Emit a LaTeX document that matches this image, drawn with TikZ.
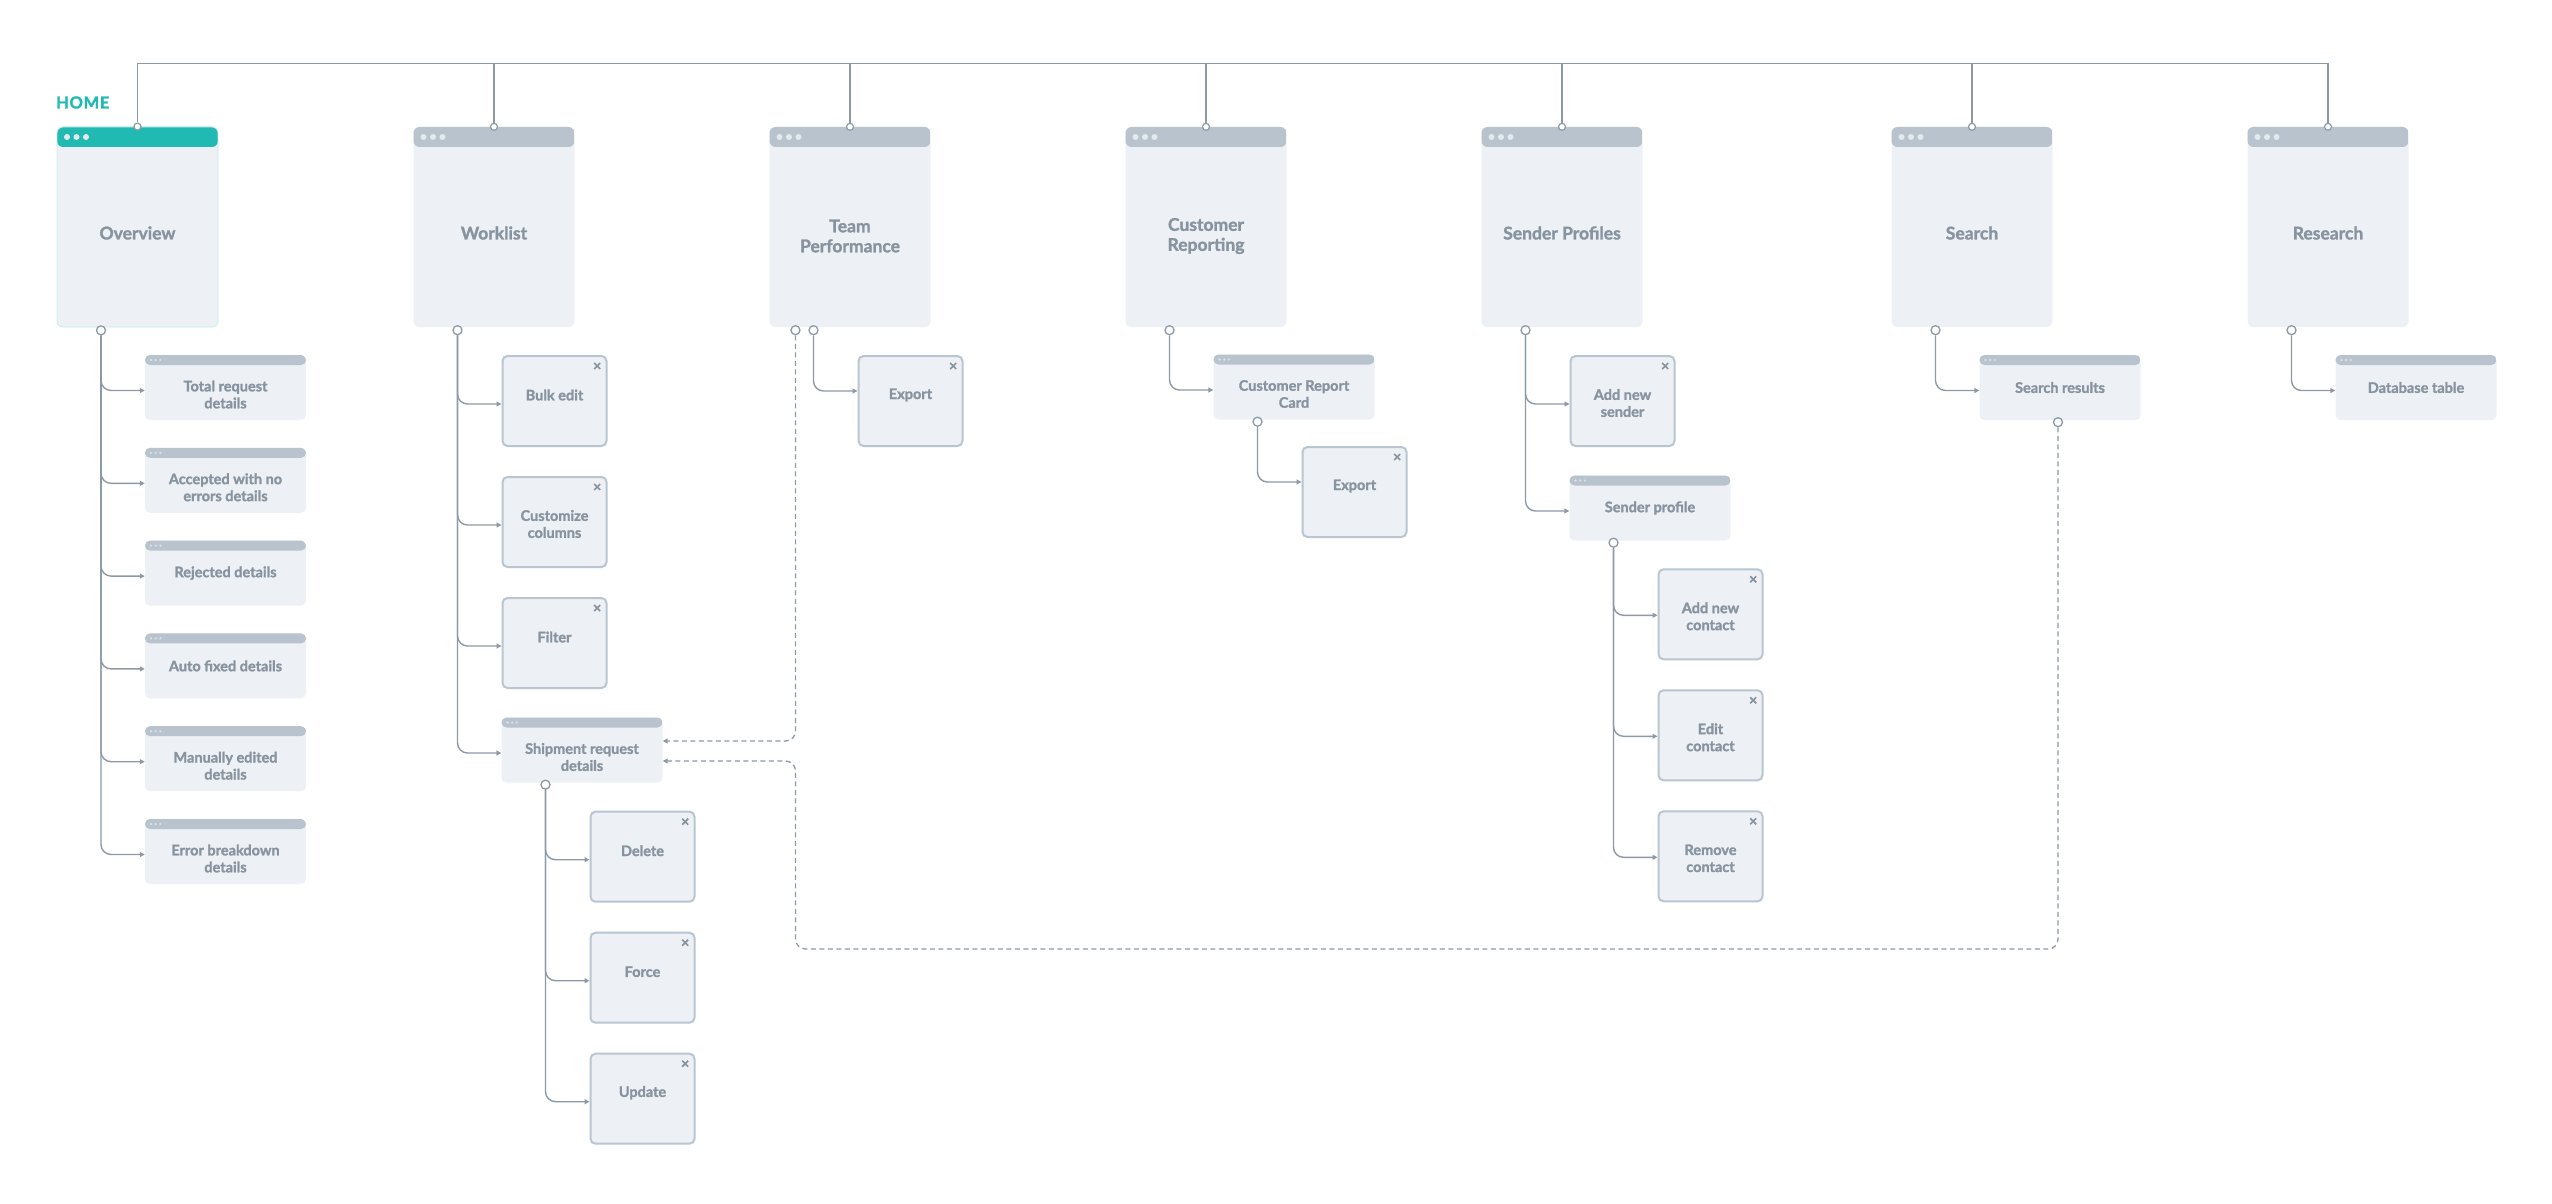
\documentclass[tikz,border=0pt]{standalone}
\usepackage{fontspec}
\setmainfont{Lato}[BoldFeatures={FakeBold=1.6}]
\usetikzlibrary{arrows.meta}
\definecolor{pagefill}{HTML}{EDF1F5}
\definecolor{hdr}{HTML}{B8C3CD}
\definecolor{pdot}{HTML}{E4E9EE}
\definecolor{wdot}{HTML}{D9E0E7}
\definecolor{homec}{HTML}{20BAB2}
\definecolor{tborder}{HTML}{C4ECE9}
\definecolor{linec}{HTML}{8D9AA6}
\definecolor{txtc}{HTML}{87949F}
\definecolor{mborder}{HTML}{B9C5D0}
\begin{document}
\begin{tikzpicture}[x=1pt,y=-1pt,
  page/.style={rectangle, rounded corners=6pt, fill=pagefill, minimum width=161pt, minimum height=200pt, inner sep=0pt,
    path picture={
      \fill[#1] (path picture bounding box.north west) rectangle ([yshift=-20pt]path picture bounding box.north east);
      \foreach \k in {0,1,2} \fill[pdot] ([xshift=10pt+\k*9.5pt,yshift=-10pt]path picture bounding box.north west) circle (3pt);
    }},
  page/.default=hdr,
  win/.style={rectangle, rounded corners=5pt, fill=pagefill, minimum width=161pt, minimum height=65pt, inner sep=0pt,
    path picture={
      \fill[hdr] (path picture bounding box.north west) rectangle ([yshift=-10pt]path picture bounding box.north east);
      \foreach \k in {0,1,2} \fill[wdot] ([xshift=6pt+\k*4.7pt,yshift=-5pt]path picture bounding box.north west) circle (1.3pt);
    }},
  modal/.style={rectangle, rounded corners=5pt, fill=pagefill, draw=mborder, line width=2pt, minimum width=104pt, minimum height=90pt, inner sep=0pt,
    path picture={
      \draw[txtc, line width=1.7pt] ([xshift=-12.3pt,yshift=-7pt]path picture bounding box.north east) -- ([xshift=-6.3pt,yshift=-13pt]path picture bounding box.north east)
        ([xshift=-12.3pt,yshift=-13pt]path picture bounding box.north east) -- ([xshift=-6.3pt,yshift=-7pt]path picture bounding box.north east);
    }},
  plbl/.style={font=\fontsize{17.5}{20}\selectfont\bfseries, text=txtc, align=center, inner sep=0pt},
  slbl/.style={font=\fontsize{14.5}{17}\selectfont\bfseries, text=txtc, align=center, inner sep=0pt},
  odot/.style={circle, draw=linec, fill=white, line width=1.3pt, minimum size=9pt, inner sep=0pt},
  tdot/.style={circle, draw=linec, fill=white, line width=1.2pt, minimum size=7pt, inner sep=0pt},
  bus/.style={draw=linec, line width=1.4pt},
  conn/.style={draw=linec, line width=1.4pt, rounded corners=10pt, -{Triangle[length=5pt,width=5pt]}},
  dashc/.style={draw=linec, line width=1.3pt, dash pattern=on 5pt off 3.5pt, rounded corners=10pt, -{Triangle[length=5pt,width=5pt]}}
]
\useasboundingbox (0,0) rectangle (2552,1204);
\fill[white] (0,0) rectangle (2552,1204);

% HOME label
\node[anchor=west, font=\fontsize{16.5}{16}\selectfont\bfseries\addfontfeature{LetterSpace=4}, text=homec, inner sep=0pt] (home) at (56,102.5) {HOME};

% top pages
\node[page=homec, draw=tborder, line width=0.8pt, label={[plbl,yshift=-6pt]center:Overview}] (ov) at (137.5,227) {};
\node[page, label={[plbl,yshift=-6pt]center:Worklist}] (wl) at (494,227) {};
\node[page, label={[plbl,yshift=-9pt]center:{Team\\Performance}}] (tp) at (850,227) {};
\node[page, label={[plbl,yshift=-9pt]center:{Customer\\Reporting}}] (cr) at (1206,227) {};
\node[page, label={[plbl,yshift=-6pt]center:{Sender Profiles}}] (sp) at (1562,227) {};
\node[page, label={[plbl,yshift=-6pt]center:Search}] (se) at (1972,227) {};
\node[page, label={[plbl,yshift=-6pt]center:Research}] (re) at (2328,227) {};

% overview children
\node[win, label={[slbl,yshift=-7pt]center:{Total request\\details}}] (ov1) at (225.5,387.5) {};
\node[win, label={[slbl,yshift=-7pt]center:{Accepted with no\\errors details}}] (ov2) at (225.5,480.3) {};
\node[win, label={[slbl,yshift=0pt]center:{Rejected details}}] (ov3) at (225.5,573.1) {};
\node[win, label={[slbl,yshift=0pt]center:{Auto fixed details}}] (ov4) at (225.5,665.9) {};
\node[win, label={[slbl,yshift=-7pt]center:{Manually edited\\details}}] (ov5) at (225.5,758.7) {};
\node[win, label={[slbl,yshift=-7pt]center:{Error breakdown\\details}}] (ov6) at (225.5,851.5) {};

% worklist children
\node[modal, label={[slbl,yshift=6pt]center:{Bulk edit}}] (wl1) at (554.5,401) {};
\node[modal, label={[slbl,yshift=-2pt]center:{Customize\\columns}}] (wl2) at (554.5,522) {};
\node[modal, label={[slbl,yshift=6pt]center:Filter}] (wl3) at (554.5,643) {};
\node[win, label={[slbl,yshift=-7pt]center:{Shipment request\\details}}] (ship) at (582,750) {};
\node[modal, label={[slbl,yshift=6pt]center:Delete}] (sh1) at (642.5,856.7) {};
\node[modal, label={[slbl,yshift=6pt]center:Force}] (sh2) at (642.5,977.7) {};
\node[modal, label={[slbl,yshift=6pt]center:Update}] (sh3) at (642.5,1098.7) {};

% team performance
\node[modal, label={[slbl,yshift=6pt]center:Export}] (tpx) at (910.5,401) {};

% customer reporting
\node[win, label={[slbl,yshift=-7pt]center:{Customer Report\\Card}}] (crc) at (1294,387) {};
\node[modal, label={[slbl,yshift=6pt]center:Export}] (crx) at (1354.5,492) {};

% sender profiles
\node[modal, label={[slbl,yshift=-2pt]center:{Add new\\sender}}] (sp1) at (1622.5,401) {};
\node[win, label={[slbl,yshift=0pt]center:{Sender profile}}] (spp) at (1650,508) {};
\node[modal, label={[slbl,yshift=-2pt]center:{Add new\\contact}}] (c1) at (1710.5,614.3) {};
\node[modal, label={[slbl,yshift=-2pt]center:{Edit\\contact}}] (c2) at (1710.5,735.3) {};
\node[modal, label={[slbl,yshift=-2pt]center:{Remove\\contact}}] (c3) at (1710.5,856.3) {};

% search, research
\node[win, label={[slbl,yshift=0pt]center:{Search results}}] (ser) at (2060,387.5) {};
\node[win, label={[slbl,yshift=0pt]center:{Database table}}] (db) at (2416,387.5) {};

% top circles
\foreach \p in {ov,wl,tp,cr,sp,se,re} \node[tdot] (\p-t) at (\p.north) {};

% bottom circles
\node[odot] (ov-o) at ([xshift=-36.5pt,yshift=-3pt]ov.south) {};
\node[odot] (wl-o) at ([xshift=-36.5pt,yshift=-3pt]wl.south) {};
\node[odot] (tp-d) at ([xshift=-54.5pt,yshift=-3pt]tp.south) {};
\node[odot] (tp-o) at ([xshift=-36.5pt,yshift=-3pt]tp.south) {};
\node[odot] (cr-o) at ([xshift=-36.5pt,yshift=-3pt]cr.south) {};
\node[odot] (sp-o) at ([xshift=-36.5pt,yshift=-3pt]sp.south) {};
\node[odot] (se-o) at ([xshift=-36.5pt,yshift=-3pt]se.south) {};
\node[odot] (re-o) at ([xshift=-36.5pt,yshift=-3pt]re.south) {};
\node[odot] (ship-o) at ([xshift=-36.5pt,yshift=-2pt]ship.south) {};
\node[odot] (crc-o) at ([xshift=-36.5pt,yshift=-2pt]crc.south) {};
\node[odot] (spp-o) at ([xshift=-36.5pt,yshift=-2pt]spp.south) {};
\node[odot] (ser-o) at ([xshift=-2pt,yshift=-2pt]ser.south) {};

% bus
\coordinate (busy) at (0,63.5);
\draw[bus] (ov-t.north) -- (ov-t.north |- busy) -- (re-t.north |- busy) -- (re-t.north);
\foreach \p in {wl,tp,cr,sp,se} \draw[bus] (\p-t.north) -- (\p-t.north |- busy);

% connectors
\foreach \c in {ov1,ov2,ov3,ov4,ov5,ov6} \draw[conn] (ov-o.south) |- ([yshift=-3pt]\c.west);
\foreach \c in {wl1,wl2,wl3,ship} \draw[conn] (wl-o.south) |- ([yshift=-3pt]\c.west);
\foreach \c in {sh1,sh2,sh3} \draw[conn] (ship-o.south) |- ([yshift=-3pt]\c.west);
\draw[conn] (tp-o.south) |- ([yshift=10pt]tpx.west);
\draw[conn] (cr-o.south) |- ([yshift=-3pt]crc.west);
\draw[conn] (crc-o.south) |- ([yshift=10pt]crx.west);
\foreach \c in {sp1,spp} \draw[conn] (sp-o.south) |- ([yshift=-3pt]\c.west);
\foreach \c in {c1,c2,c3} \draw[conn] (spp-o.south) |- ([yshift=-1pt]\c.west);
\draw[conn] (se-o.south) |- ([yshift=-3pt]ser.west);
\draw[conn] (re-o.south) |- ([yshift=-3pt]db.west);

% dashed links
\coordinate (loopy) at (0,949);
\draw[dashc] (tp-d.south) |- ([yshift=9pt]ship.east);
\draw[dashc] (ser-o.south) |- (tp-d |- loopy) |- ([yshift=-11pt]ship.east);
\end{tikzpicture}
\end{document}
